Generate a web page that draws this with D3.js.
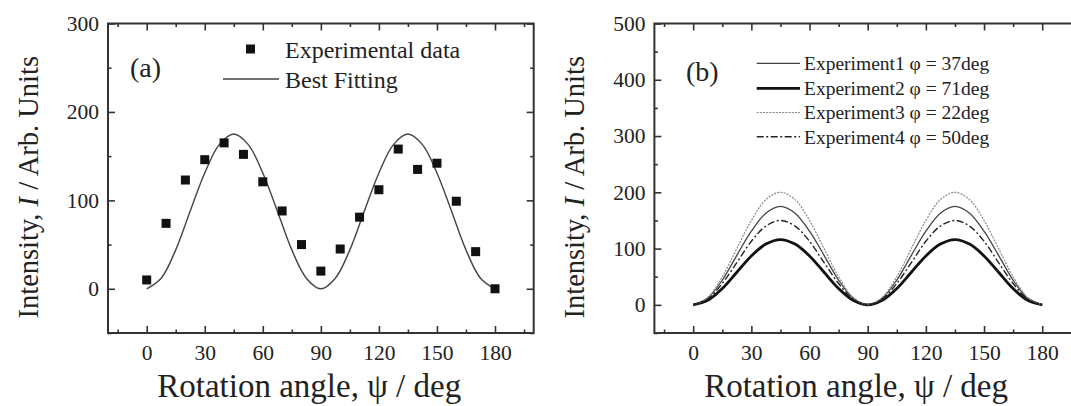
<!DOCTYPE html>
<html>
<head>
<meta charset="utf-8">
<script src="https://cdn.jsdelivr.net/npm/d3@7"></script>
<style>
  body { margin: 0; background: #fff; }
  text { font-family: "Liberation Serif", "Times New Roman", serif; fill: #222; }
</style>
</head>
<body>
<script>
// panel (a): measured points
var expAngles = [0, 10, 20, 30, 40, 50, 60, 70, 80, 90, 100, 110, 120, 130, 140, 150, 160, 170, 180];
var expValues = [10, 74, 123, 146, 165, 152, 121, 88, 50, 20, 45, 81, 112, 158, 135, 142, 99, 42, 0];

// curves, read every 7.5 deg
var curveAngles = [0, 7.5, 15, 22.5, 30, 37.5, 45, 52.5, 60, 67.5, 75, 82.5, 90,
  97.5, 105, 112.5, 120, 127.5, 135, 142.5, 150, 157.5, 165, 172.5, 180];
var fitValues = [0, 12, 44, 88, 131, 163, 175, 163, 131, 88, 44, 12, 0, 12, 44, 88, 131, 163, 175, 163, 131, 88, 44, 12, 0];
var exp1Values = [0, 12, 44, 88, 131, 163, 175, 163, 131, 88, 44, 12, 0, 12, 44, 88, 131, 163, 175, 163, 131, 88, 44, 12, 0];
var exp2Values = [0, 8, 29, 58, 87, 108, 116, 108, 87, 58, 29, 8, 0, 8, 29, 58, 87, 108, 116, 108, 87, 58, 29, 8, 0];
var exp3Values = [0, 13, 50, 100, 150, 187, 200, 187, 150, 100, 50, 13, 0, 13, 50, 100, 150, 187, 200, 187, 150, 100, 50, 13, 0];
var exp4Values = [0, 10, 38, 75, 113, 140, 150, 140, 113, 75, 38, 10, 0, 10, 38, 75, 113, 140, 150, 140, 113, 75, 38, 10, 0];

var xTicks = [0, 30, 60, 90, 120, 150, 180];
var xMinor = [-15, 15, 45, 75, 105, 135, 165, 195];
var yTicksA = [0, 100, 200, 300];
var yMinorA = [-50, 50, 150, 250];
var yTicksB = [0, 100, 200, 300, 400, 500];
var yMinorB = [-50, 50, 150, 250, 350, 450];

var legendA = ["Experimental data", "Best Fitting"];
var legendB = ["Experiment1 \u03C6 = 37deg", "Experiment2 \u03C6 = 71deg",
  "Experiment3 \u03C6 = 22deg", "Experiment4 \u03C6 = 50deg"];

var plotTop = 23.5, plotBottom = 333;
var frameColor = "#333";

var svg = d3.select("body").append("svg")
  .attr("width", 1071)
  .attr("height", 406);

function drawFrame(x, y, yTicks, yMinor) {
  var g = svg.append("g");
  var x0 = x.range()[0], x1 = x.range()[1];

  var bottomMajor = d3.axisBottom(x).tickValues(xTicks).tickSize(-7).tickPadding(12);
  var bottomMinor = d3.axisBottom(x).tickValues(xMinor).tickSize(-3.5).tickFormat("");
  var topMajor = d3.axisTop(x).tickValues(xTicks).tickSize(-7).tickFormat("");
  var topMinor = d3.axisTop(x).tickValues(xMinor).tickSize(-3.5).tickFormat("");
  var leftMajor = d3.axisLeft(y).tickValues(yTicks).tickSize(-7).tickPadding(9);
  var leftMinor = d3.axisLeft(y).tickValues(yMinor).tickSize(-3.5).tickFormat("");
  var rightMajor = d3.axisRight(y).tickValues(yTicks).tickSize(-7).tickFormat("");
  var rightMinor = d3.axisRight(y).tickValues(yMinor).tickSize(-3.5).tickFormat("");

  [[bottomMajor, 0, plotBottom], [bottomMinor, 0, plotBottom], [topMajor, 0, plotTop], [topMinor, 0, plotTop],
   [leftMajor, x0, 0], [leftMinor, x0, 0], [rightMajor, x1, 0], [rightMinor, x1, 0]]
    .forEach(function (a) {
      var ax = g.append("g")
        .attr("transform", "translate(" + a[1] + "," + a[2] + ")")
        .call(a[0]);
      ax.attr("font-family", null);
      ax.select(".domain").remove();
      ax.selectAll("line").attr("stroke", frameColor).attr("stroke-width", 1.6);
      ax.selectAll("text")
        .style("font-family", "'Liberation Serif', serif")
        .style("font-size", "21.5px")
        .attr("fill", "#222");
    });

  g.append("rect")
    .attr("x", x0).attr("y", plotTop)
    .attr("width", x1 - x0).attr("height", plotBottom - plotTop)
    .attr("fill", "none")
    .attr("stroke", frameColor)
    .attr("stroke-width", 2);

  // axis titles
  var yt = g.append("text")
    .attr("transform", "translate(" + (x0 - 70) + "," + ((plotTop + plotBottom) / 2 + 9) + ") rotate(-90)")
    .attr("text-anchor", "middle")
    .style("font-size", "28.5px");
  yt.append("tspan").text("Intensity, ");
  yt.append("tspan").style("font-style", "italic").text("I");
  yt.append("tspan").text(" / Arb. Units");

  g.append("text")
    .attr("x", x(84))
    .attr("y", 397)
    .attr("text-anchor", "middle")
    .style("font-size", "33px")
    .text("Rotation angle, \u03C8 / deg");
}

var line = function (x, y) {
  return d3.line()
    .x(function (d) { return x(d[0]); })
    .y(function (d) { return y(d[1]); })
    .curve(d3.curveCatmullRom.alpha(0.5));
};

// ---------- panel (a)
var xA = d3.scaleLinear().domain([-20, 200]).range([108, 533.7]);
var yA = d3.scaleLinear().domain([-50, 300]).range([plotBottom, plotTop]);

svg.append("path")
  .datum(d3.zip(curveAngles, fitValues))
  .attr("d", line(xA, yA))
  .attr("fill", "none")
  .attr("stroke", "#444")
  .attr("stroke-width", 1.4);

svg.selectAll("rect.pt")
  .data(d3.zip(expAngles, expValues))
  .enter()
  .append("rect")
  .attr("class", "pt")
  .attr("x", function (d) { return xA(d[0]) - 4.5; })
  .attr("y", function (d) { return yA(d[1]) - 4.5; })
  .attr("width", 9)
  .attr("height", 9)
  .attr("fill", "#111");

drawFrame(xA, yA, yTicksA, yMinorA);

svg.append("text").attr("x", 130).attr("y", 77).style("font-size", "28px").text("(a)");

svg.append("rect").attr("x", 246).attr("y", 44.5).attr("width", 9).attr("height", 9).attr("fill", "#111");
svg.append("text").attr("x", 285).attr("y", 50).attr("dy", "0.35em").style("font-size", "24px").text(legendA[0]);
svg.append("line").attr("x1", 223).attr("x2", 279).attr("y1", 79).attr("y2", 79)
  .attr("stroke", "#444").attr("stroke-width", 1.4);
svg.append("text").attr("x", 285).attr("y", 80).attr("dy", "0.35em").style("font-size", "24px").text(legendA[1]);

// ---------- panel (b)
var xB = d3.scaleLinear().domain([-20, 200]).range([654.4, 1081]);
var yB = d3.scaleLinear().domain([-50, 500]).range([plotBottom, plotTop]);

var styles = [
  { values: exp1Values, stroke: "#444", width: 1.3, dash: null },
  { values: exp2Values, stroke: "#111", width: 2.8, dash: null },
  { values: exp3Values, stroke: "#888", width: 1.2, dash: "2,1.2" },
  { values: exp4Values, stroke: "#222", width: 1.4, dash: "7,2.5,2,2.5" }
];

styles.forEach(function (s) {
  svg.append("path")
    .datum(d3.zip(curveAngles, s.values))
    .attr("d", line(xB, yB))
    .attr("fill", "none")
    .attr("stroke", s.stroke)
    .attr("stroke-width", s.width)
    .attr("stroke-dasharray", s.dash);
});

drawFrame(xB, yB, yTicksB, yMinorB);

svg.append("text").attr("x", 686).attr("y", 81).style("font-size", "28px").text("(b)");

var legRows = [63.3, 88.3, 112.5, 136.7];
styles.forEach(function (s, i) {
  svg.append("line")
    .attr("x1", 756.7).attr("x2", 800)
    .attr("y1", legRows[i]).attr("y2", legRows[i])
    .attr("stroke", s.stroke)
    .attr("stroke-width", s.width)
    .attr("stroke-dasharray", s.dash);
  svg.append("text")
    .attr("x", 804)
    .attr("y", legRows[i])
    .attr("dy", "0.35em")
    .style("font-size", "19.5px")
    .text(legendB[i]);
});
</script>
</body>
</html>
